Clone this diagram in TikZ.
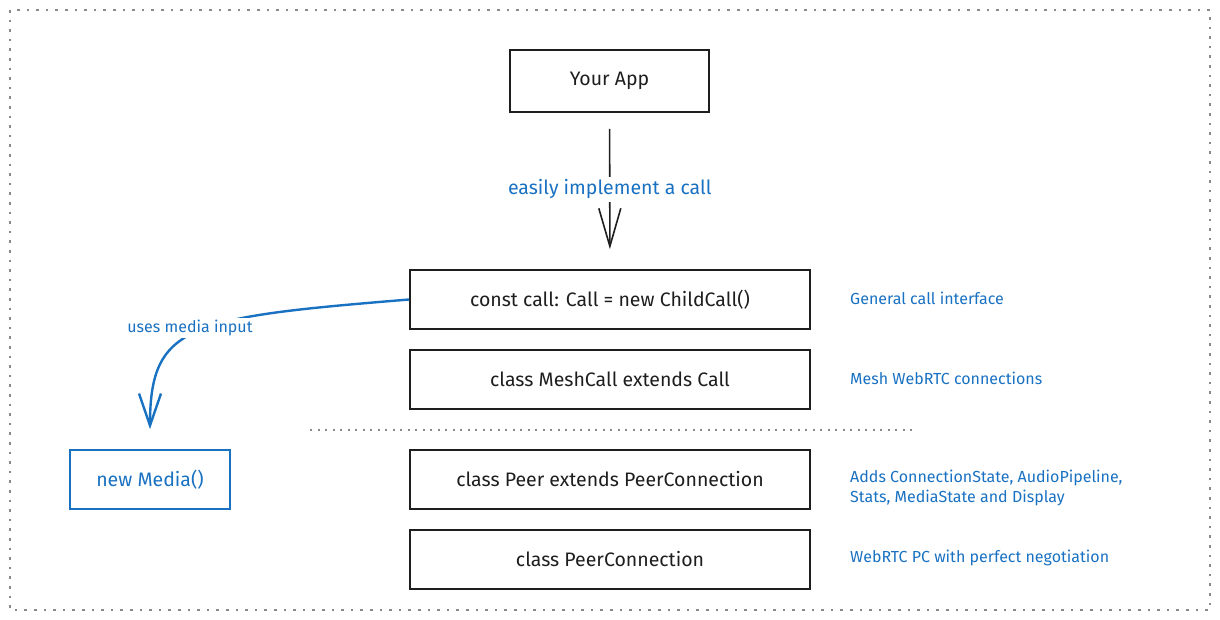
\documentclass[tikz,border=0pt]{standalone}
\usepackage{fontspec}
\setmainfont{Fira Sans}
\usetikzlibrary{arrows.meta}
\definecolor{ink}{HTML}{1E1E1E}
\definecolor{blu}{HTML}{1971C2}
\definecolor{dotgray}{HTML}{8A8A8A}
\tikzset{
  layerbox/.style={draw=ink, line width=1.6pt, minimum width=400pt, minimum height=59pt, inner sep=0pt, text=ink, font=\fontsize{19.5}{23}\selectfont},
  notelabel/.style={anchor=west, text=blu, align=left, inner sep=0pt, font=\fontsize{16}{20}\selectfont},
  dotline/.style={draw=dotgray, line width=2.6pt, dash pattern=on 2.6pt off 7pt},
}
\begin{document}
\begin{tikzpicture}[x=1pt,y=-1pt]
\useasboundingbox (0,0) rectangle (1220,620);
\draw[dotline] (10,10) rectangle (1210,610);

\node[layerbox, minimum width=199pt, minimum height=62pt] (app) at (609.5,81) {Your App};
\node[layerbox] (call) at (610,299.5) {const call: Call = new ChildCall()};
\node[layerbox] (mesh) at (610,379.5) {class MeshCall extends Call};
\node[layerbox] (peer) at (610,479.5) {class Peer extends PeerConnection};
\node[layerbox] (pc) at (610,559.5) {class PeerConnection};
\node[layerbox, draw=blu, text=blu, minimum width=160pt] (media) at (150,479.5) {new Media()};

\coordinate (sepL) at (310,430);
\coordinate (sepR) at (912,430);
\draw[draw=dotgray, line width=2.1pt, dash pattern=on 2.1pt off 5.4pt] (sepL) -- (sepR);

\node[notelabel] (n1) at (850,298) {General call interface};
\node[notelabel] (n2) at (850,378) {Mesh WebRTC connections};
\node[notelabel] (n3) at (850,488) {Adds ConnectionState, AudioPipeline,\\Stats, MediaState and Display};
\node[notelabel] (n4) at (850,558) {WebRTC PC with perfect negotiation};

\draw[draw=ink, line width=1.6pt, shorten <=16pt, shorten >=20pt,
  -{Straight Barb[length=38pt,width=22pt,line width=1.6pt]}]
  (app) -- node[pos=0.49, fill=white, text=blu, inner sep=3pt, font=\fontsize{19.5}{23}\selectfont] (lbl1) {easily implement a call} (call);

\draw[draw=blu, line width=2.4pt, shorten >=20pt,
  -{Straight Barb[length=32pt,width=22pt,line width=2.4pt]}]
  (call.west) .. controls +(-220,18) and +(0,-125) .. (media.north);
\node[fill=white, text=blu, inner sep=2pt, font=\fontsize{16}{20}\selectfont] (lbl2) at (190,328) {uses media input};
\end{tikzpicture}
\end{document}
